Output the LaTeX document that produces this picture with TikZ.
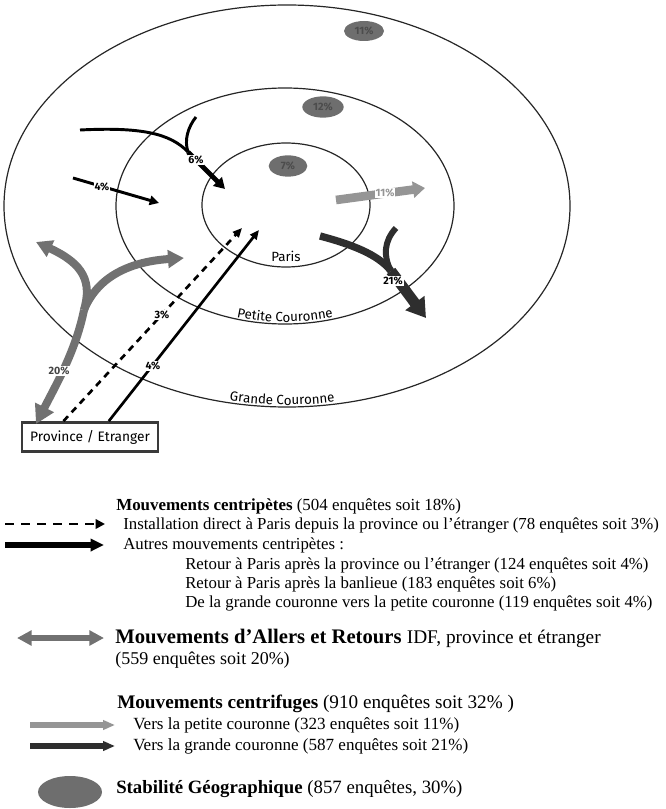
\documentclass[tikz,border=0pt]{standalone}
\usepackage{fontspec}
\setmainfont{Liberation Serif}
\newfontfamily\cfont{Fira Sans}
\usetikzlibrary{arrows.meta,shapes.geometric,decorations.text}
\definecolor{stabgray}{HTML}{6E6E6E}
\definecolor{argray}{HTML}{717171}
\definecolor{ltgray}{HTML}{959595}
\definecolor{dkgray}{HTML}{2E2E2E}
\definecolor{boxgray}{HTML}{3A3A3A}
\tikzset{
  ring/.style={draw=black!85, line width=0.9pt},
  stab/.style={ellipse, fill=stabgray, text=black!70, font=\cfont\bfseries\fontsize{8}{9}\selectfont, inner sep=0pt},
  lbl/.style={fill=white, inner sep=0.6pt, font=\cfont\bfseries\fontsize{8}{9}\selectfont},
  ringlbl/.style={font=\cfont\fontsize{10}{12}\selectfont, inner sep=0pt},
  blk/.style={draw=black},
  gstem/.style={draw=argray, line width=6pt},
  legtxt/.style={anchor=west, inner sep=0pt, font=\fontsize{12.6}{14}\selectfont},
  leghead/.style={anchor=west, inner sep=0pt},
}
\begin{document}
\begin{tikzpicture}[x=0.75pt,y=-0.75pt]
\useasboundingbox (0,0) rectangle (666,809);
% rings
\draw[ring] (287,206) ellipse [x radius=283, y radius=201];
\draw[ring] (285,206) ellipse [x radius=169, y radius=118];
\draw[ring] (286,205) ellipse [x radius=84, y radius=62];
\node[ringlbl] (paris) at (286,256) {Paris};
\path[decorate, decoration={text along path, text align=center, raise=1.5pt,
  text={|\cfont\fontsize{10}{12}\selectfont|Petite Couronne}}]
  (285,206) ++(122:169 and 118) arc[start angle=122, end angle=58, x radius=169, y radius=118];
\path[decorate, decoration={text along path, text align=center, raise=1.5pt,
  text={|\cfont\fontsize{10}{12}\selectfont|Grande Couronne}}]
  (287,206) ++(103:283 and 201) arc[start angle=103, end angle=79, x radius=283, y radius=201];
% stability
\node[stab, minimum width=30pt, minimum height=15pt] (st11) at (364,31) {11\%};
\node[stab, minimum width=31pt, minimum height=16pt] (st12) at (323,107) {12\%};
\node[stab, minimum width=29pt, minimum height=16pt] (st7) at (288,166) {7\%};
% province box
\node[draw=boxgray, line width=1.8pt, minimum width=102pt, minimum height=22pt, inner sep=0pt, font=\cfont\fontsize{10.3}{12}\selectfont] (prov) at (90,437) {Province / Etranger};
% 6% arrow
\coordinate (s6) at (80,130);
\coordinate (m6) at (188,152);
\coordinate (e6) at (225,189);
\coordinate (b6) at (196,117);
\draw[blk, line width=2.2pt] (s6) .. controls (140,127) and (170,133) .. (m6);
\draw[blk, line width=2.2pt] (b6) .. controls (188,127) and (184,140) .. (m6);
\draw[blk, line width=3.6pt, -{Triangle[length=8pt,width=9pt]}] (m6) -- (e6);
\node[lbl] (l6) at (196,160) {6\%};
% 4% arrow
\coordinate (s4) at (73,178);
\coordinate (e4) at (159,203);
\draw[blk, line width=2.2pt, -{Triangle[length=7pt,width=7pt]}] (s4) -- (e4);
\node[lbl] (l4) at (102,187) {4\%};
% dashed and solid from province
\coordinate (p1) at ([xshift=32pt]prov.north west);
\coordinate (p2) at ([xshift=66pt]prov.north west);
\coordinate (d3) at (242,228);
\coordinate (s4b) at (259,230);
\draw[blk, line width=2pt, dash pattern=on 5pt off 4pt, -{Triangle[length=7pt,width=6pt]}] (p1) -- (d3);
\draw[blk, line width=2pt, -{Triangle[length=7pt,width=6pt]}] (p2) -- (s4b);
\node[lbl] (l3) at (162,315) {3\%};
\node[lbl] (l4b) at (153,366) {4\%};
% gray aller-retour
\coordinate (gsp) at (84,310);
\coordinate (gbt) at (36,424);
\coordinate (glt) at (36,242);
\coordinate (grt) at (184,258);
\draw[gstem, -{Triangle[length=14pt,width=15pt]}] (gsp) .. controls (76,350) and (56,385) .. (gbt);
\draw[gstem, -{Triangle[length=12pt,width=13pt]}] (gsp) .. controls (92,282) and (84,264) .. (glt);
\draw[gstem, -{Triangle[length=12pt,width=13pt]}] (gsp) .. controls (96,280) and (125,262) .. (grt);
\node[lbl, text=argray!60!black] (l20) at (59,371) {20\%};
% 11% light
\coordinate (s11) at (336,200);
\coordinate (e11) at (425,188);
\draw[draw=ltgray, line width=6.5pt, -{Triangle[length=9pt,width=12pt]}] (s11) -- (e11);
\node[lbl, text=ltgray] (l11) at (385,193) {11\%};
% 21% dark
\coordinate (s21) at (320,236);
\coordinate (m21) at (391,271);
\coordinate (b21) at (396,228);
\coordinate (e21) at (426,318);
\draw[draw=dkgray, line width=5.5pt] (s21) .. controls (350,244) and (378,254) .. (m21);
\draw[draw=dkgray, line width=4.5pt] (b21) .. controls (384,241) and (383,256) .. (m21);
\draw[draw=dkgray, line width=8pt, -{Triangle[length=14pt,width=17pt]}] (m21) -- (e21);
\node[lbl] (l21) at (393,281) {21\%};
% legend
\node[leghead, font=\fontsize{12.7}{15}\selectfont] (h1) at (116,506) {\textbf{Mouvements centripètes} (504 enquêtes soit 18\%)};
\coordinate (ld1) at (5,524);
\coordinate (ld2) at (105,524);
\draw[blk, line width=2.2pt, dash pattern=on 7pt off 5pt, -{Triangle[length=7pt,width=7pt]}] (ld1) -- (ld2);
\node[legtxt] (t1) at (123,525) {Installation direct à Paris depuis la province ou l'étranger (78 enquêtes soit 3\%)};
\coordinate (lb1) at (5,545);
\coordinate (lb2) at (104,545);
\draw[blk, line width=4.5pt, -{Triangle[length=10pt,width=9pt]}] (lb1) -- (lb2);
\node[legtxt] (t2) at (123,545) {Autres mouvements centripètes :};
\node[legtxt] (t3) at (185,565) {Retour à Paris après la province ou l'étranger (124 enquêtes soit 4\%)};
\node[legtxt] (t4) at (185,584) {Retour à Paris après la banlieue (183 enquêtes soit 6\%)};
\node[legtxt] (t5) at (185,603) {De la grande couronne vers la petite couronne (119 enquêtes soit 4\%)};
\coordinate (lg1) at (17,638);
\coordinate (lg2) at (104,638);
\draw[draw=argray, line width=5pt, {Triangle[length=11pt,width=11pt]}-{Triangle[length=11pt,width=11pt]}] (lg1) -- (lg2);
\node[leghead] (h2) at (115,638) {\fontsize{15.5}{17}\selectfont\textbf{Mouvements d'Allers et Retours} \fontsize{14.5}{16}\selectfont IDF, province et étranger};
\node[leghead, font=\fontsize{13.5}{15}\selectfont] (h2b) at (115,660) {(559 enquêtes soit 20\%)};
\node[leghead, font=\fontsize{14.4}{16}\selectfont] (h3) at (117,704) {\textbf{Mouvements centrifuges} (910 enquêtes soit 32\% )};
\coordinate (ll1) at (30,725);
\coordinate (ll2) at (115,725);
\draw[draw=ltgray, line width=4pt, -{Triangle[length=9pt,width=7pt]}] (ll1) -- (ll2);
\node[legtxt, font=\fontsize{12.8}{14}\selectfont] (t6) at (133,725) {Vers la petite couronne (323 enquêtes soit 11\%)};
\coordinate (ldk1) at (30,746);
\coordinate (ldk2) at (115,746);
\draw[draw=dkgray, line width=4pt, -{Triangle[length=9pt,width=7pt]}] (ldk1) -- (ldk2);
\node[legtxt, font=\fontsize{12.8}{14}\selectfont] (t7) at (133,746) {Vers la grande couronne (587 enquêtes soit 21\%)};
\node[ellipse, fill=stabgray, minimum width=48pt, minimum height=24pt, inner sep=0pt] (lst) at (70,792) {};
\node[leghead, font=\fontsize{14.1}{16}\selectfont] (h4) at (116,789) {\textbf{Stabilité Géographique} (857 enquêtes, 30\%)};
\end{tikzpicture}
\end{document}
